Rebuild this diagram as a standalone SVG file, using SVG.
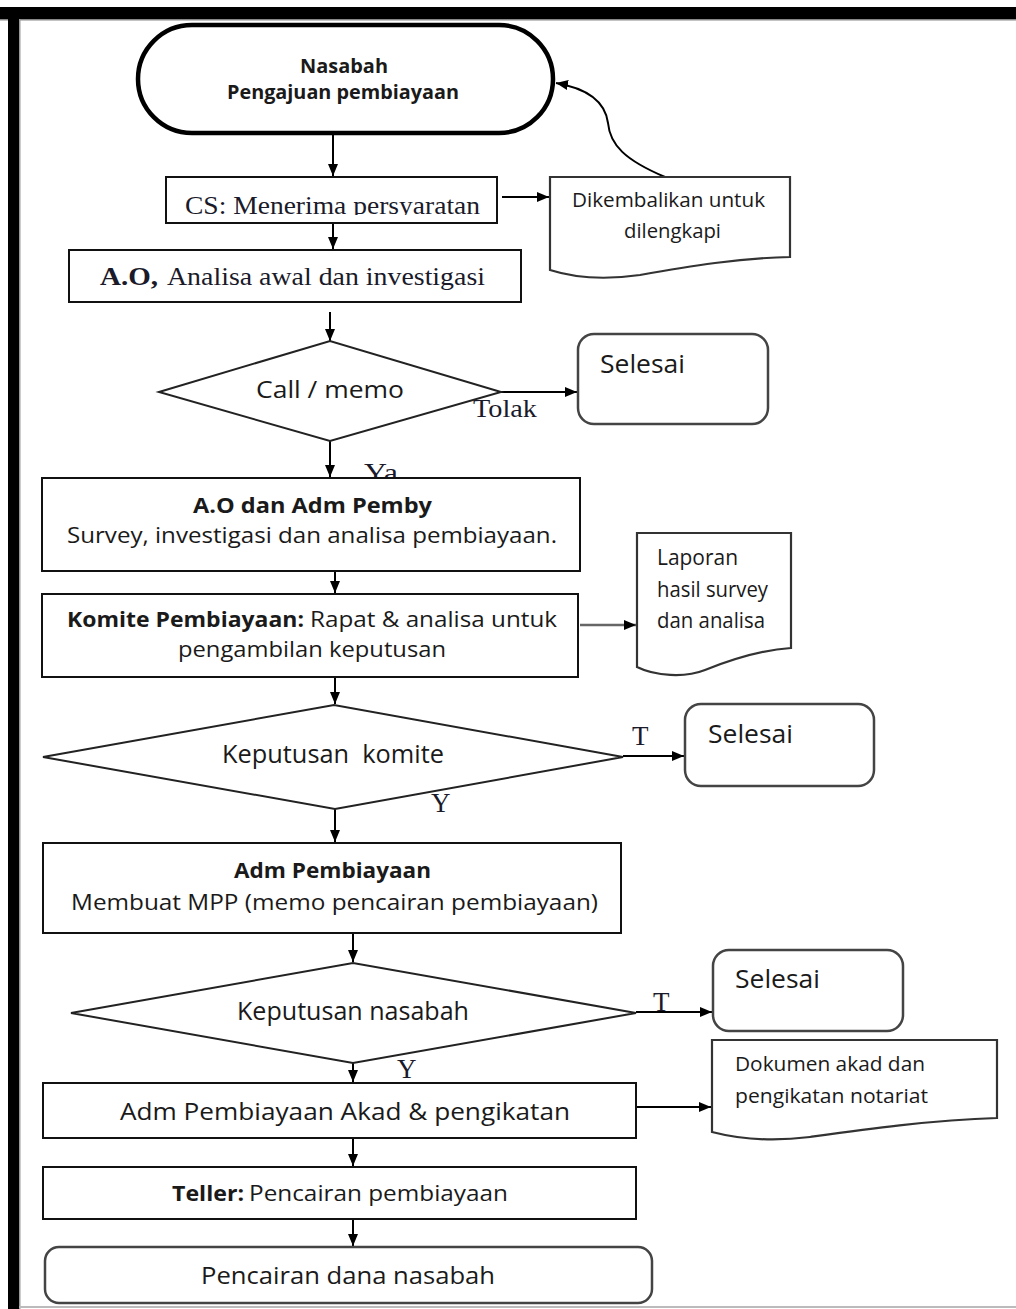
<svg xmlns="http://www.w3.org/2000/svg" width="1016" height="1309" viewBox="0 0 1016 1309">
<style>
.box{fill:#fff;stroke:#111;stroke-width:2}
.term{fill:#fff;stroke:#000;stroke-width:4.5}
.end{fill:#fff;stroke:#444;stroke-width:2.5}
.doc{fill:#fff;stroke:#333;stroke-width:2.2}
.dia{fill:#fff;stroke:#222;stroke-width:2}
.c{stroke:#000;stroke-width:2;fill:none;marker-end:url(#ah)}
.s{font-family:"Open Sans","Liberation Sans",sans-serif;fill:#1a1a1a}
.r{font-family:"Liberation Serif",serif;fill:#1a1a2a}
.b{font-weight:bold}
</style>
<defs>
<marker id="ah" markerUnits="userSpaceOnUse" markerWidth="12" markerHeight="10" refX="12" refY="5" orient="auto"><path d="M0,0 L12,5 L0,10 z" fill="#000"/></marker>
<clipPath id="csclip"><rect x="166" y="177" width="331" height="38"/></clipPath>
</defs>
<rect width="1016" height="1309" fill="#fff"/>
<g id="frame">
<rect x="0" y="7" width="1016" height="12" fill="#000"/>
<rect x="0" y="19" width="1016" height="1.5" fill="#888"/>
<rect x="8" y="7" width="11" height="1302" fill="#000"/>
<rect x="19" y="19" width="1.5" height="1290" fill="#999"/>
<rect x="19" y="1306" width="997" height="2" fill="#bbb"/>
</g>
<g id="connectors">
<line class="c" x1="333" y1="133" x2="333" y2="176"/>
<line class="c" x1="502" y1="197" x2="549" y2="197"/>
<path class="c" d="M665,177 C625,160 610,145 608,123 C605,100 585,88 556,83"/>
<line class="c" x1="333" y1="223" x2="333" y2="249"/>
<line class="c" x1="330" y1="312" x2="330" y2="341"/>
<line class="c" x1="501" y1="392" x2="577" y2="392"/>
<line class="c" x1="330" y1="441" x2="330" y2="477"/>
<line class="c" x1="335" y1="571" x2="335" y2="593"/>
<line class="c" style="stroke:#666;stroke-width:2.5" x1="580" y1="625" x2="636" y2="625"/>
<line class="c" x1="335" y1="677" x2="335" y2="704"/>
<line class="c" x1="623" y1="756" x2="684" y2="756"/>
<line class="c" x1="335" y1="809" x2="335" y2="842"/>
<line class="c" x1="353" y1="933" x2="353" y2="962"/>
<line class="c" x1="636" y1="1012" x2="712" y2="1012"/>
<line class="c" x1="353" y1="1063" x2="353" y2="1082"/>
<line class="c" x1="637" y1="1107" x2="711" y2="1107"/>
<line class="c" x1="353" y1="1139" x2="353" y2="1166"/>
<line class="c" x1="353" y1="1219" x2="353" y2="1246"/>
<text class="r" x="473" y="417" font-size="25" textLength="64" lengthAdjust="spacingAndGlyphs">Tolak</text>
<text class="r" x="364" y="482" font-size="27" textLength="34" lengthAdjust="spacingAndGlyphs">Ya</text>
<text class="r" x="632" y="745" font-size="27">T</text>
<text class="r" x="431" y="812" font-size="27">Y</text>
<text class="r" x="653" y="1011" font-size="27">T</text>
<text class="r" x="397" y="1078" font-size="27">Y</text>
</g>
<g id="n-nasabah">
<rect class="term" x="138" y="25" width="415" height="108" rx="54"/>
<text class="s b" x="300" y="73" font-size="19" textLength="88" lengthAdjust="spacingAndGlyphs">Nasabah</text>
<text class="s b" x="227" y="99" font-size="19" textLength="232" lengthAdjust="spacingAndGlyphs">Pengajuan pembiayaan</text>
</g>
<g id="n-cs">
<rect class="box" x="166" y="177" width="331" height="46"/>
<text class="r" clip-path="url(#csclip)" x="185" y="214" font-size="25" textLength="295" lengthAdjust="spacingAndGlyphs">CS: Menerima persyaratan</text>
</g>
<g id="n-dikembalikan">
<path class="doc" d="M550,177 H790 V257 C740,258 690,266 640,275 C605,280 575,278 550,270 Z"/>
<text class="s" x="572" y="207" font-size="20" textLength="193" lengthAdjust="spacingAndGlyphs">Dikembalikan untuk</text>
<text class="s" x="624" y="238" font-size="20" textLength="97" lengthAdjust="spacingAndGlyphs">dilengkapi</text>
</g>
<g id="n-ao">
<rect class="box" x="69" y="250" width="452" height="52"/>
<text class="r" y="285" font-size="26"><tspan class="b" x="100" textLength="58" lengthAdjust="spacingAndGlyphs">A.O,</tspan><tspan x="167" textLength="318" lengthAdjust="spacingAndGlyphs">Analisa awal dan investigasi</tspan></text>
</g>
<g id="n-call">
<polygon class="dia" points="159,392 330,341 501,392 330,441"/>
<text class="s" x="256" y="398" font-size="24" textLength="148" lengthAdjust="spacingAndGlyphs">Call / memo</text>
</g>
<g id="n-selesai1">
<rect class="end" x="578" y="334" width="190" height="90" rx="16"/>
<text class="s" x="600" y="373" font-size="26" textLength="85" lengthAdjust="spacingAndGlyphs">Selesai</text>
</g>
<g id="n-survey">
<rect class="box" x="42" y="478" width="538" height="93"/>
<text class="s b" x="193" y="513" font-size="21" textLength="239" lengthAdjust="spacingAndGlyphs">A.O dan Adm Pemby</text>
<text class="s" x="67" y="543" font-size="22" textLength="490" lengthAdjust="spacingAndGlyphs">Survey, investigasi dan analisa pembiayaan.</text>
</g>
<g id="n-komite">
<rect class="box" x="42" y="594" width="536" height="83"/>
<text class="s" y="627" font-size="22"><tspan class="b" x="67" textLength="237" lengthAdjust="spacingAndGlyphs">Komite Pembiayaan:</tspan><tspan x="310" textLength="247" lengthAdjust="spacingAndGlyphs">Rapat &amp; analisa untuk</tspan></text>
<text class="s" x="178" y="657" font-size="22" textLength="268" lengthAdjust="spacingAndGlyphs">pengambilan keputusan</text>
</g>
<g id="n-laporan">
<path class="doc" d="M637,533 H791 V648 C760,650 730,660 705,670 C685,678 655,676 637,667 Z"/>
<text class="s" x="657" y="565" font-size="21" textLength="81" lengthAdjust="spacingAndGlyphs">Laporan</text>
<text class="s" x="657" y="597" font-size="21" textLength="111" lengthAdjust="spacingAndGlyphs">hasil survey</text>
<text class="s" x="657" y="628" font-size="21" textLength="108" lengthAdjust="spacingAndGlyphs">dan analisa</text>
</g>
<g id="n-kep-komite">
<polygon class="dia" points="43,757 334,705 623,757 335,809"/>
<text class="s" xml:space="preserve" x="222" y="763" font-size="25" textLength="222" lengthAdjust="spacingAndGlyphs">Keputusan  komite</text>
</g>
<g id="n-selesai2">
<rect class="end" x="685" y="704" width="189" height="82" rx="16"/>
<text class="s" x="708" y="743" font-size="26" textLength="85" lengthAdjust="spacingAndGlyphs">Selesai</text>
</g>
<g id="n-adm">
<rect class="box" x="43" y="843" width="578" height="90"/>
<text class="s b" x="234" y="878" font-size="21" textLength="197" lengthAdjust="spacingAndGlyphs">Adm Pembiayaan</text>
<text class="s" x="71" y="910" font-size="22" textLength="527" lengthAdjust="spacingAndGlyphs">Membuat MPP (memo pencairan pembiayaan)</text>
</g>
<g id="n-kep-nasabah">
<polygon class="dia" points="71,1013 353,963 636,1013 353,1063"/>
<text class="s" x="237" y="1020" font-size="25" textLength="232" lengthAdjust="spacingAndGlyphs">Keputusan nasabah</text>
</g>
<g id="n-selesai3">
<rect class="end" x="713" y="950" width="190" height="81" rx="16"/>
<text class="s" x="735" y="988" font-size="26" textLength="85" lengthAdjust="spacingAndGlyphs">Selesai</text>
</g>
<g id="n-dokumen">
<path class="doc" d="M712,1040 H997 V1118 C930,1120 860,1130 810,1137 C770,1142 735,1138 712,1132 Z"/>
<text class="s" x="735" y="1071" font-size="20" textLength="190" lengthAdjust="spacingAndGlyphs">Dokumen akad dan</text>
<text class="s" x="735" y="1103" font-size="20" textLength="193" lengthAdjust="spacingAndGlyphs">pengikatan notariat</text>
</g>
<g id="n-akad">
<rect class="box" x="43" y="1083" width="593" height="55"/>
<text class="s" x="120" y="1120" font-size="24" textLength="450" lengthAdjust="spacingAndGlyphs">Adm Pembiayaan Akad &amp; pengikatan</text>
</g>
<g id="n-teller">
<rect class="box" x="43" y="1167" width="593" height="52"/>
<text class="s" y="1201" font-size="21"><tspan class="b" x="172" textLength="72" lengthAdjust="spacingAndGlyphs">Teller:</tspan><tspan x="249" textLength="259" lengthAdjust="spacingAndGlyphs">Pencairan pembiayaan</tspan></text>
</g>
<g id="n-pencairan">
<rect class="end" x="45" y="1247" width="607" height="56" rx="14"/>
<text class="s" x="201" y="1284" font-size="24" textLength="294" lengthAdjust="spacingAndGlyphs">Pencairan dana nasabah</text>
</g>
</svg>
